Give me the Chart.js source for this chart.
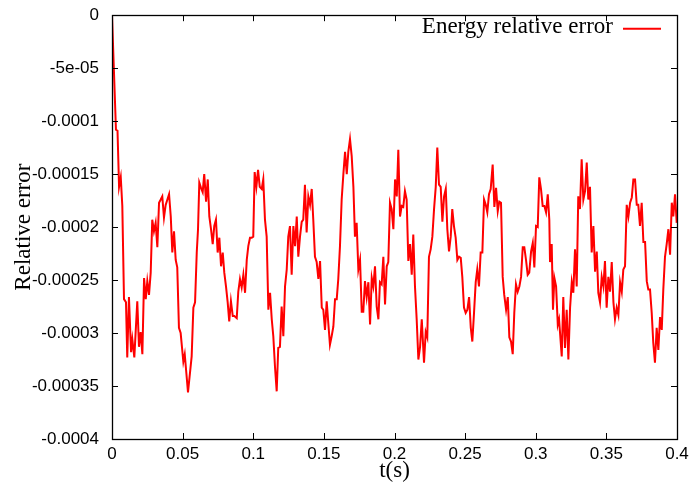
<!DOCTYPE html>
<html>
<head>
<meta charset="utf-8">
<script src="https://cdn.jsdelivr.net/npm/chart.js@4.4.0/dist/chart.umd.min.js"></script>
<style>
  html, body { margin: 0; padding: 0; background: #fff; }
  #box { width: 692px; height: 485px; }
</style>
</head>
<body>
<div id="box"><canvas id="grafico"></canvas></div>
<script>
// Tiempo (s)
const tiempos = [
  0.0000, 0.0028, 0.0039, 0.0050, 0.0062, 0.0073, 0.0085, 0.0099, 0.0108, 0.0120,
  0.0135, 0.0144, 0.0158, 0.0179, 0.0191, 0.0203, 0.0215, 0.0227, 0.0239, 0.0250,
  0.0262, 0.0274, 0.0285, 0.0297, 0.0309, 0.0321, 0.0333, 0.0345, 0.0356, 0.0368,
  0.0380, 0.0404, 0.0416, 0.0427, 0.0439, 0.0451, 0.0462, 0.0474, 0.0486, 0.0505,
  0.0515, 0.0538, 0.0564, 0.0576, 0.0588, 0.0600, 0.0609, 0.0618, 0.0630, 0.0642,
  0.0653, 0.0666, 0.0678, 0.0689, 0.0701, 0.0713, 0.0724, 0.0736, 0.0748, 0.0760,
  0.0772, 0.0784, 0.0795, 0.0807, 0.0819, 0.0830, 0.0842, 0.0855, 0.0866, 0.0883,
  0.0894, 0.0906, 0.0918, 0.0930, 0.0942, 0.0954, 0.0965, 0.0977, 0.0989, 0.1000,
  0.1010, 0.1022, 0.1034, 0.1046, 0.1060, 0.1071, 0.1083, 0.1095, 0.1107, 0.1119,
  0.1131, 0.1142, 0.1154, 0.1166, 0.1177, 0.1189, 0.1201, 0.1213, 0.1225, 0.1237,
  0.1248, 0.1260, 0.1272, 0.1284, 0.1296, 0.1308, 0.1319, 0.1331, 0.1343, 0.1354,
  0.1366, 0.1378, 0.1390, 0.1402, 0.1414, 0.1425, 0.1437, 0.1449, 0.1461, 0.1473,
  0.1485, 0.1496, 0.1508, 0.1520, 0.1531, 0.1543, 0.1555, 0.1567, 0.1579, 0.1591,
  0.1602, 0.1614, 0.1626, 0.1638, 0.1650, 0.1662, 0.1673, 0.1685, 0.1697, 0.1709,
  0.1720, 0.1732, 0.1744, 0.1756, 0.1768, 0.1779, 0.1791, 0.1803, 0.1815, 0.1827,
  0.1839, 0.1850, 0.1862, 0.1874, 0.1886, 0.1897, 0.1909, 0.1921, 0.1933, 0.1945,
  0.1956, 0.1968, 0.1980, 0.1992, 0.2004, 0.2016, 0.2027, 0.2039, 0.2051, 0.2062,
  0.2074, 0.2086, 0.2098, 0.2110, 0.2122, 0.2133, 0.2145, 0.2157, 0.2169, 0.2181,
  0.2193, 0.2209, 0.2221, 0.2232, 0.2244, 0.2256, 0.2268, 0.2280, 0.2292, 0.2303,
  0.2315, 0.2327, 0.2339, 0.2351, 0.2363, 0.2374, 0.2386, 0.2398, 0.2409, 0.2421,
  0.2433, 0.2445, 0.2457, 0.2469, 0.2480, 0.2492, 0.2504, 0.2516, 0.2528, 0.2540,
  0.2551, 0.2563, 0.2575, 0.2586, 0.2598, 0.2610, 0.2622, 0.2634, 0.2646, 0.2657,
  0.2669, 0.2681, 0.2695, 0.2707, 0.2719, 0.2731, 0.2742, 0.2754, 0.2766, 0.2777,
  0.2790, 0.2802, 0.2813, 0.2825, 0.2837, 0.2848, 0.2860, 0.2872, 0.2884, 0.2896,
  0.2908, 0.2919, 0.2931, 0.2943, 0.2954, 0.2967, 0.2979, 0.2990, 0.3002, 0.3014,
  0.3025, 0.3037, 0.3049, 0.3061, 0.3073, 0.3085, 0.3096, 0.3101, 0.3113, 0.3122,
  0.3132, 0.3144, 0.3156, 0.3165, 0.3184, 0.3195, 0.3207, 0.3219, 0.3231, 0.3243,
  0.3255, 0.3266, 0.3278, 0.3290, 0.3301, 0.3313, 0.3325, 0.3337, 0.3349, 0.3361,
  0.3372, 0.3384, 0.3396, 0.3408, 0.3420, 0.3432, 0.3443, 0.3455, 0.3467, 0.3479,
  0.3490, 0.3502, 0.3514, 0.3526, 0.3538, 0.3550, 0.3561, 0.3573, 0.3585, 0.3597,
  0.3609, 0.3620, 0.3632, 0.3644, 0.3656, 0.3668, 0.3680, 0.3691, 0.3703, 0.3715,
  0.3726, 0.3738, 0.3750, 0.3762, 0.3774, 0.3786, 0.3797, 0.3809, 0.3821, 0.3832,
  0.3844, 0.3856, 0.3868, 0.3880, 0.3892, 0.3903, 0.3915, 0.3927, 0.3939, 0.3951,
  0.3963, 0.3974, 0.3986, 0.3998
];

// Error relativo de energía, en unidades de 1e-5
const errorE5 = [
  0.0, -10.8, -10.9, -16.2, -15.3, -18.0, -26.8, -27.1, -32.3, -26.6,
  -31.8, -30.6, -32.3, -27.0, -31.3, -29.9, -32.0, -24.8, -26.8, -25.1,
  -26.4, -24.3, -19.3, -20.4, -19.6, -21.9, -17.7, -17.4, -17.1, -19.1,
  -17.9, -16.9, -19.0, -22.4, -20.4, -23.1, -23.8, -29.5, -30.0, -32.7,
  -32.0, -35.6, -32.2, -27.6, -27.1, -22.4, -20.2, -15.8, -16.3, -16.7,
  -15.0, -17.6, -15.5, -19.0, -20.2, -21.6, -19.9, -19.3, -22.4, -21.0,
  -23.7, -22.4, -24.3, -25.6, -27.1, -28.9, -27.0, -28.4, -28.4, -28.6,
  -26.1, -24.9, -25.7, -24.5, -26.2, -23.1, -21.8, -21.0, -21.0, -20.9,
  -14.8, -16.2, -14.6, -16.2, -16.4, -15.5, -19.3, -20.9, -27.8, -26.2,
  -28.7, -30.3, -33.2, -35.5, -31.4, -31.3, -27.5, -30.3, -25.6, -24.0,
  -20.9, -19.9, -24.5, -19.9, -21.8, -19.0, -22.8, -20.9, -19.5, -19.3,
  -16.0, -20.5, -17.1, -17.9, -16.4, -19.3, -22.8, -23.3, -24.9, -23.2,
  -27.6, -27.8, -29.7, -27.0, -29.0, -31.1, -30.3, -29.4, -26.8, -26.8,
  -24.9, -21.8, -17.4, -15.0, -12.9, -15.0, -12.9, -11.7, -13.3, -16.2,
  -20.9, -19.6, -24.0, -23.1, -28.0, -28.0, -25.1, -26.6, -25.2, -29.2,
  -24.8, -25.6, -23.7, -27.5, -28.7, -25.2, -25.4, -22.8, -27.3, -23.7,
  -23.3, -17.7, -18.3, -20.2, -15.5, -17.1, -12.7, -19.0, -18.0, -18.1,
  -16.6, -17.4, -23.2, -21.6, -24.5, -20.7, -25.6, -28.7, -32.5, -31.3,
  -28.7, -32.8, -29.9, -30.4, -22.8, -22.1, -20.9, -18.3, -16.2, -12.5,
  -16.0, -16.2, -19.5, -17.1, -16.4, -20.2, -22.3, -20.9, -18.3, -19.9,
  -21.0, -23.1, -22.8, -22.9, -24.7, -27.6, -28.1, -27.8, -26.6, -29.5,
  -30.8, -28.1, -25.2, -24.0, -25.6, -22.4, -22.4, -17.4, -17.9, -18.6,
  -16.9, -16.4, -14.1, -18.1, -16.3, -18.5, -17.6, -17.7, -24.7, -26.4,
  -27.8, -26.6, -30.4, -30.8, -32.0, -28.1, -25.4, -26.1, -25.6, -24.7,
  -21.9, -21.9, -23.1, -24.5, -24.3, -22.3, -21.5, -23.8, -19.9, -20.0,
  -15.3, -16.4, -18.0, -18.0, -18.6, -16.9, -19.3, -23.3, -21.6, -27.8,
  -24.8, -25.6, -29.2, -28.7, -32.2, -26.6, -31.4, -27.8, -32.5, -27.6,
  -25.2, -26.2, -22.1, -25.6, -17.1, -18.3, -13.6, -17.4, -16.6, -13.9,
  -17.4, -16.2, -22.4, -19.9, -24.2, -22.3, -26.2, -27.1, -24.7, -25.6,
  -23.2, -27.6, -24.7, -26.1, -23.3, -27.1, -28.7, -27.6, -28.3, -25.2,
  -26.1, -24.0, -23.7, -17.9, -19.0, -17.7, -17.2, -15.5, -15.5, -17.9,
  -17.9, -19.9, -17.7, -21.4, -21.4, -25.1, -25.9, -25.9, -28.1, -30.9,
  -32.8, -29.5, -31.6, -28.5, -29.7, -25.9, -22.8, -21.6, -20.2, -22.6,
  -17.7, -19.0, -16.9, -19.6
];

// Etiquetas de los ejes (de menor a mayor)
const etiquetasX = ['0', '0.05', '0.1', '0.15', '0.2', '0.25', '0.3', '0.35', '0.4'];
const etiquetasY = ['-0.0004', '-0.00035', '-0.0003', '-0.00025', '-0.0002', '-0.00015', '-0.0001', '-5e-05', '0'];

const puntos = tiempos.map((t, i) => ({ x: t, y: errorE5[i] * 1e-5 }));

// Marco, marcas de escala hacia dentro y leyenda al estilo gnuplot
const marcoGnuplot = {
  id: 'marcoGnuplot',
  afterDraw(chart) {
    const ctx = chart.ctx;
    const a = chart.chartArea;
    const sx = chart.scales.x;
    const sy = chart.scales.y;
    const largo = 6;
    ctx.save();
    ctx.strokeStyle = '#000';
    ctx.lineWidth = 1;
    ctx.beginPath();
    sx.ticks.forEach(tk => {
      const px = Math.round(sx.getPixelForValue(tk.value)) + 0.5;
      ctx.moveTo(px, a.bottom); ctx.lineTo(px, a.bottom - largo);
      ctx.moveTo(px, a.top); ctx.lineTo(px, a.top + largo);
    });
    sy.ticks.forEach(tk => {
      const py = Math.round(sy.getPixelForValue(tk.value)) + 0.5;
      ctx.moveTo(a.left, py); ctx.lineTo(a.left + largo, py);
      ctx.moveTo(a.right, py); ctx.lineTo(a.right - largo, py);
    });
    ctx.stroke();
    ctx.lineWidth = 1.3;
    ctx.strokeRect(Math.round(a.left) + 0.5, Math.round(a.top) + 0.5,
                   Math.round(a.right - a.left), Math.round(a.bottom - a.top));

    // Leyenda
    const ds = chart.data.datasets[0];
    ctx.font = '23px "Liberation Serif", "Times New Roman", serif';
    ctx.fillStyle = '#000';
    ctx.textAlign = 'right';
    ctx.textBaseline = 'alphabetic';
    ctx.fillText(ds.label, a.right - 64, a.top + 18);
    ctx.strokeStyle = ds.borderColor;
    ctx.lineWidth = 2;
    ctx.beginPath();
    ctx.moveTo(a.right - 54, a.top + 13.5);
    ctx.lineTo(a.right - 16, a.top + 13.5);
    ctx.stroke();
    ctx.restore();
  }
};

const ctx = document.getElementById('grafico').getContext('2d');
const grafico = new Chart(ctx, {
  type: 'line',
  data: {
    datasets: [{
      label: 'Energy relative error',
      data: puntos,
      borderColor: 'rgb(255, 0, 0)',
      borderWidth: 2,
      pointRadius: 0,
      tension: 0,
      fill: false
    }]
  },
  options: {
    responsive: true,
    maintainAspectRatio: false,
    animation: false,
    layout: { padding: { top: 15, right: 15, left: 0, bottom: 0 } },
    plugins: {
      legend: { display: false },
      tooltip: { enabled: false }
    },
    scales: {
      x: {
        type: 'linear',
        min: 0,
        max: 0.4,
        grid: { display: false },
        border: { display: false },
        afterFit: s => { s.height = 46; },
        ticks: {
          stepSize: 0.05,
          padding: -3,
          color: '#000',
          font: { family: '"Liberation Sans", Arial, sans-serif', size: 17 },
          maxRotation: 0,
          callback: (v, i) => etiquetasX[i]
        },
        title: {
          display: true,
          text: 't(s)',
          color: '#000',
          padding: { top: 0, bottom: 0 },
          font: { family: '"Liberation Serif", "Times New Roman", serif', size: 23 }
        }
      },
      y: {
        min: -0.0004,
        max: 0,
        grid: { display: false },
        border: { display: false },
        afterFit: s => { s.width = 112; },
        ticks: {
          stepSize: 0.00005,
          padding: 5,
          color: '#000',
          font: { family: '"Liberation Sans", Arial, sans-serif', size: 17 },
          callback: (v, i) => etiquetasY[i]
        },
        title: {
          display: true,
          text: 'Relative error',
          color: '#000',
          padding: { top: 10, bottom: 0 },
          font: { family: '"Liberation Serif", "Times New Roman", serif', size: 23 }
        }
      }
    }
  },
  plugins: [marcoGnuplot]
});
</script>
</body>
</html>
